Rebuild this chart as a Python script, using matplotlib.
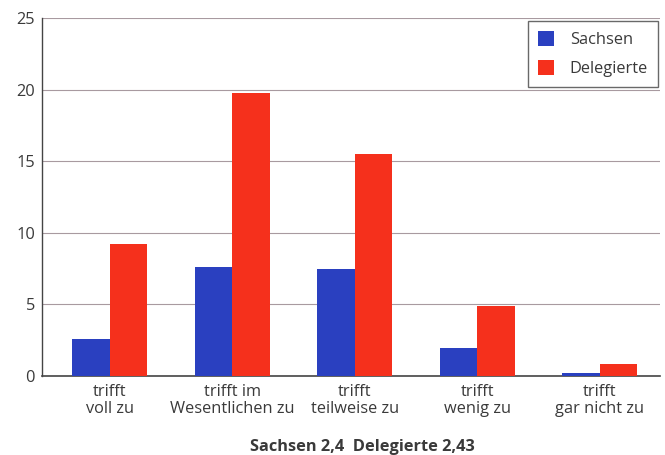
import matplotlib.pyplot as plt
import numpy as np

categories = ["trifft\nvoll zu", "trifft im\nWesentlichen zu", "trifft\nteilweise zu",
              "trifft\nwenig zu", "trifft\ngar nicht zu"]
sachsen = [2.55, 7.6, 7.5, 1.95, 0.2]
delegierte = [9.2, 19.8, 15.5, 4.9, 0.85]
y_ticks = [0, 5, 10, 15, 20, 25]

plt.rcParams['font.family'] = ['Open Sans', 'DejaVu Sans']

fig = plt.figure(figsize=(6.65, 4.55), dpi=100)
ax = fig.add_axes([0.063, 0.174, 0.929, 0.786])

x = np.arange(len(categories))
w = 0.306
ax.bar(x - w / 2, sachsen, w, color='#2a40c0', label='Sachsen', zorder=3)
ax.bar(x + w / 2, delegierte, w, color='#f5301c', label='Delegierte', zorder=3)

ax.set_xlim(-0.555, 4.49)
ax.set_ylim(0, 25)
ax.set_yticks(y_ticks)
ax.set_xticks(x)
ax.set_xticklabels(categories, fontsize=11.8, color='#3a3a3a', linespacing=1.05)
ax.tick_params(axis='y', labelsize=11.8, labelcolor='#3a3a3a', length=0, pad=5)
ax.tick_params(axis='x', length=0, pad=6)
ax.grid(axis='y', color='#a89aa0', linewidth=0.8, zorder=0)

for s in ['top', 'right']:
    ax.spines[s].set_visible(False)
ax.spines['left'].set_color('#444444')
ax.spines['bottom'].set_color('#444444')
ax.spines['left'].set_linewidth(1.0)
ax.spines['bottom'].set_linewidth(1.2)

leg = ax.legend(loc='upper right', bbox_to_anchor=(0.997, 0.992), fontsize=11.8,
                frameon=True, fancybox=False, edgecolor='#444444',
                handlelength=1.0, handleheight=1.0, labelspacing=0.75,
                borderpad=0.6, handletextpad=0.95, borderaxespad=0.0)
leg.get_frame().set_linewidth(1.0)
for t in leg.get_texts():
    t.set_color('#3a3a3a')

fig.text(0.545, 0.008, "Sachsen 2,4  Delegierte 2,43", ha='center', fontsize=11.8,
         fontweight='bold', color='#3a3a3a')

fig.savefig('out.png', dpi=100)
